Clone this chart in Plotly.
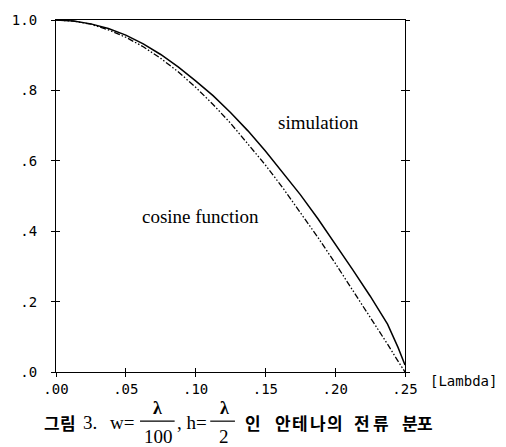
import plotly.graph_objects as go

# ---- data ----
x_pos = [0.000, 0.0125, 0.025, 0.0375, 0.050, 0.0625, 0.075, 0.0875, 0.100, 0.1125,
         0.125, 0.1375, 0.150, 0.1625, 0.175, 0.1875, 0.200, 0.2125, 0.225, 0.2375,
         0.245, 0.250]
simulation = [1.000, 0.997, 0.989, 0.976, 0.957, 0.932, 0.902, 0.867, 0.827, 0.785,
              0.737, 0.685, 0.628, 0.567, 0.504, 0.436, 0.364, 0.291, 0.216, 0.136,
              0.070, 0.020]
cosine_fn = [1.000, 0.997, 0.988, 0.972, 0.951, 0.924, 0.891, 0.853, 0.809, 0.760,
             0.707, 0.649, 0.588, 0.523, 0.454, 0.383, 0.309, 0.233, 0.156, 0.079,
             0.031, 0.000]

x_ticks = [0.00, 0.05, 0.10, 0.15, 0.20, 0.25]
x_tick_text = [".00", ".05", ".10", ".15", ".20", ".25"]
y_ticks = [0.0, 0.2, 0.4, 0.6, 0.8, 1.0]
y_tick_text = [".0", ".2", ".4", ".6", ".8", "1.0"]

# ---- layout geometry (pixels) ----
W, H = 506, 447
L, R, T, B = 52, 101, 14, 75
PW, PH = W - L - R, H - T - B


def px(xp):
    return (xp - L) / PW


def py(yp):
    return (H - B - yp) / PH


MONO = "DejaVu Sans Mono"
SERIF = "Liberation Serif"
KR = "Noto Sans CJK KR"

fig = go.Figure()
fig.add_trace(go.Scatter(x=x_pos, y=simulation, mode="lines", name="simulation",
                         line=dict(color="black", width=1.5), showlegend=False,
                         cliponaxis=False))
fig.add_trace(go.Scatter(x=x_pos, y=cosine_fn, mode="lines", name="cosine function",
                         line=dict(color="black", width=1.3,
                                   dash="6px,2px,1.5px,2px,1.5px,2px"),
                         showlegend=False, cliponaxis=False))
# helper trace so the overlay axes (inner tick halves) are drawn
fig.add_trace(go.Scatter(x=[0], y=[0], xaxis="x2", yaxis="y2", mode="markers",
                         marker=dict(opacity=0), hoverinfo="skip", showlegend=False))

axis_common = dict(showgrid=False, zeroline=False, linecolor="black", linewidth=1.2,
                   tickcolor="black", tickwidth=1.2, ticklen=4)

fig.update_layout(
    width=W, height=H,
    margin=dict(l=L, r=R, t=T, b=B, pad=0),
    paper_bgcolor="white", plot_bgcolor="white",
    xaxis=dict(range=[0, 0.25], tickvals=x_ticks, ticktext=x_tick_text,
               ticks="outside", showline=True, mirror=True,
               tickfont=dict(family=MONO, size=14, color="black"), **axis_common),
    xaxis2=dict(range=[0, 0.25], tickvals=x_ticks, overlaying="x", anchor="y",
                ticks="inside", showticklabels=False, showline=False, **axis_common),
    yaxis=dict(range=[0, 1], tickvals=y_ticks, ticktext=y_tick_text,
               ticks="outside", showline=True, mirror="ticks", ticklabelstandoff=11,
               tickfont=dict(family=MONO, size=14, color="black"), **axis_common),
    yaxis2=dict(range=[0, 1], tickvals=y_ticks, overlaying="y", anchor="x",
                ticks="inside", showticklabels=False, showline=True, mirror="ticks",
                **axis_common),
)

ann = []


def add_text(text, x, y, family, size, xanchor="center", bold=False):
    ann.append(dict(text=("<b>%s</b>" % text) if bold else text,
                    x=px(x), y=py(y), xref="paper", yref="paper",
                    xanchor=xanchor, yanchor="middle", showarrow=False,
                    font=dict(family=family, size=size, color="black")))


add_text("simulation", 317.5, 118, SERIF, 19)
add_text("cosine function", 198, 214, SERIF, 19)
add_text("[Lambda]", 428, 381, MONO, 14, xanchor="left")

# caption (Korean glyphs are widely spaced in the original, placed one by one)
kr_glyphs = [("그", 48), ("림", 64), ("인", 251),
             ("안", 281.5), ("테", 299), ("나", 316.5), ("의", 334),
             ("전", 362), ("류", 381), ("분", 410.5), ("포", 425.5)]
for g, gx in kr_glyphs:
    add_text(g, gx, 423, KR, 17, bold=True)
add_text("3.", 77, 423, SERIF, 19, xanchor="left")
add_text("w=", 105, 423, SERIF, 19, xanchor="left")
add_text("λ", 155, 409, SERIF, 18, bold=True)
add_text("100", 156, 438, SERIF, 19)
add_text(", h=", 172, 423, SERIF, 19, xanchor="left")
add_text("λ", 222, 409, SERIF, 18, bold=True)
add_text("2", 222, 438, SERIF, 19)

fig.update_layout(annotations=ann)

# fraction bars of the caption
shapes = []
for x0, x1 in [(137, 172), (208, 233)]:
    shapes.append(dict(type="line", xref="paper", yref="paper",
                       x0=px(x0), x1=px(x1), y0=py(422), y1=py(422),
                       line=dict(color="black", width=1.2)))
fig.update_layout(shapes=shapes)

fig.write_html("out.html",
               config={"displayModeBar": False},
               post_script="document.body.style.margin='0';"
                           "document.body.style.overflow='hidden';")
